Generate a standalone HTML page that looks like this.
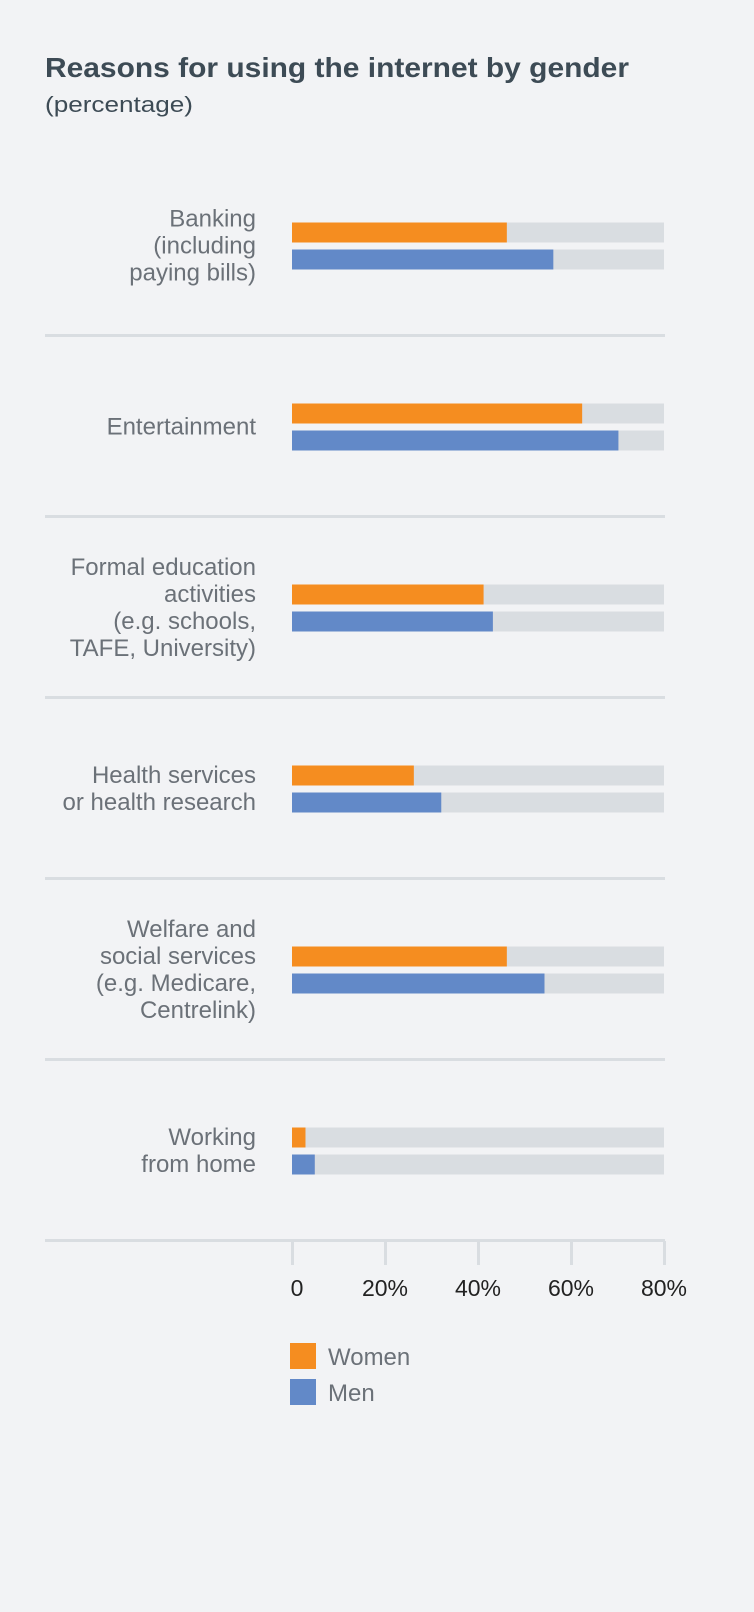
<!DOCTYPE html>
<html><head><meta charset="utf-8"><style>
html,body{margin:0;padding:0;background:#f2f3f5;}
body{width:754px;height:1612px;overflow:hidden;font-family:"Liberation Sans",sans-serif;}
svg{display:block}
</style></head><body>
<svg id="chart" width="754" height="1612" xmlns="http://www.w3.org/2000/svg">
<text x="45" y="77" font-size="28" font-weight="bold" fill="#3d4b55" textLength="584" lengthAdjust="spacingAndGlyphs" font-family="Liberation Sans, sans-serif">Reasons for using the internet by gender</text>
<text x="45" y="112" font-size="22" fill="#3d4b55" textLength="148" lengthAdjust="spacingAndGlyphs" font-family="Liberation Sans, sans-serif">(percentage)</text>
<g id="plot"></g>
</svg>
<script>
const categories = [
  ["Banking","(including","paying bills)"],
  ["Entertainment"],
  ["Formal education","activities","(e.g. schools,","TAFE, University)"],
  ["Health services","or health research"],
  ["Welfare and","social services","(e.g. Medicare,","Centrelink)"],
  ["Working","from home"]
];
const women = [46.2, 62.4, 41.2, 26.2, 46.2, 2.9];
const men = [56.2, 70.2, 43.2, 32.1, 54.3, 4.9];
const ticks = [0, 20, 40, 60, 80];
const tickLabels = ["0","20%","40%","60%","80%"];
const seriesNames = ["Women","Men"];

const NS = "http://www.w3.org/2000/svg";
const g = document.getElementById("plot");
const X0 = 292, X1 = 664, MAX = 80;
const x = v => X0 + (v / MAX) * (X1 - X0);
const rowTop = 155, rowH = 181;
const yc = i => rowTop + rowH * i + rowH / 2;
const ORANGE = "#f58d20", BLUE = "#6289c8", TRACK = "#d9dde1";
function mk(tag, attrs) {
  const e = document.createElementNS(NS, tag);
  for (const k in attrs) e.setAttribute(k, attrs[k]);
  g.appendChild(e);
  return e;
}
categories.forEach((lines, i) => {
  const c = yc(i);
  const t1 = mk("rect", {x: X0, y: c - 23, width: X1 - X0, height: 20, fill: TRACK});
  
  
  const t2 = mk("rect", {x: X0, y: c + 4, width: X1 - X0, height: 20, fill: TRACK});
  
  
  const bw = mk("rect", {x: X0, y: c - 23, width: x(women[i]) - X0, height: 20, fill: ORANGE});
  
  
  const bm = mk("rect", {x: X0, y: c + 4, width: x(men[i]) - X0, height: 20, fill: BLUE});
  
  
  const lh = 27;
  const startY = c - (lines.length - 1) * lh / 2 + 8;
  lines.forEach((ln, j) => {
    const t = mk("text", {x: 256, y: startY + j * lh, "text-anchor": "end", "font-size": 24, fill: "#6b7178", "font-family": "Liberation Sans, sans-serif"});
    t.textContent = ln;
    
    
  });
  const sep = mk("rect", {x: 45, y: rowTop + rowH * (i + 1) - 2, width: X1 - 45 + 1, height: 3, fill: TRACK});
  
  
});
const axisY = rowTop + rowH * categories.length;
ticks.forEach((v, i) => {
  const tk = mk("rect", {x: x(v) - 1, y: axisY, width: 3, height: 24, fill: TRACK});
  
  
  const tl = mk("text", {x: x(v) + (i === 0 ? 5 : 0), y: axisY + 55, "text-anchor": "middle", "font-size": 23, fill: "#222", "font-family": "Liberation Sans, sans-serif"});
  tl.textContent = tickLabels[i];
  
  
});
[ORANGE, BLUE].forEach((col, i) => {
  const ly = 1343 + i * 36;
  const sq = mk("rect", {x: 290, y: ly, width: 26, height: 26, fill: col});
  
  
  const lt = mk("text", {x: 328, y: ly + 22, "font-size": 24, fill: "#6b7178", "font-family": "Liberation Sans, sans-serif"});
  lt.textContent = seriesNames[i];
  
  
});
</script>
</body></html>
